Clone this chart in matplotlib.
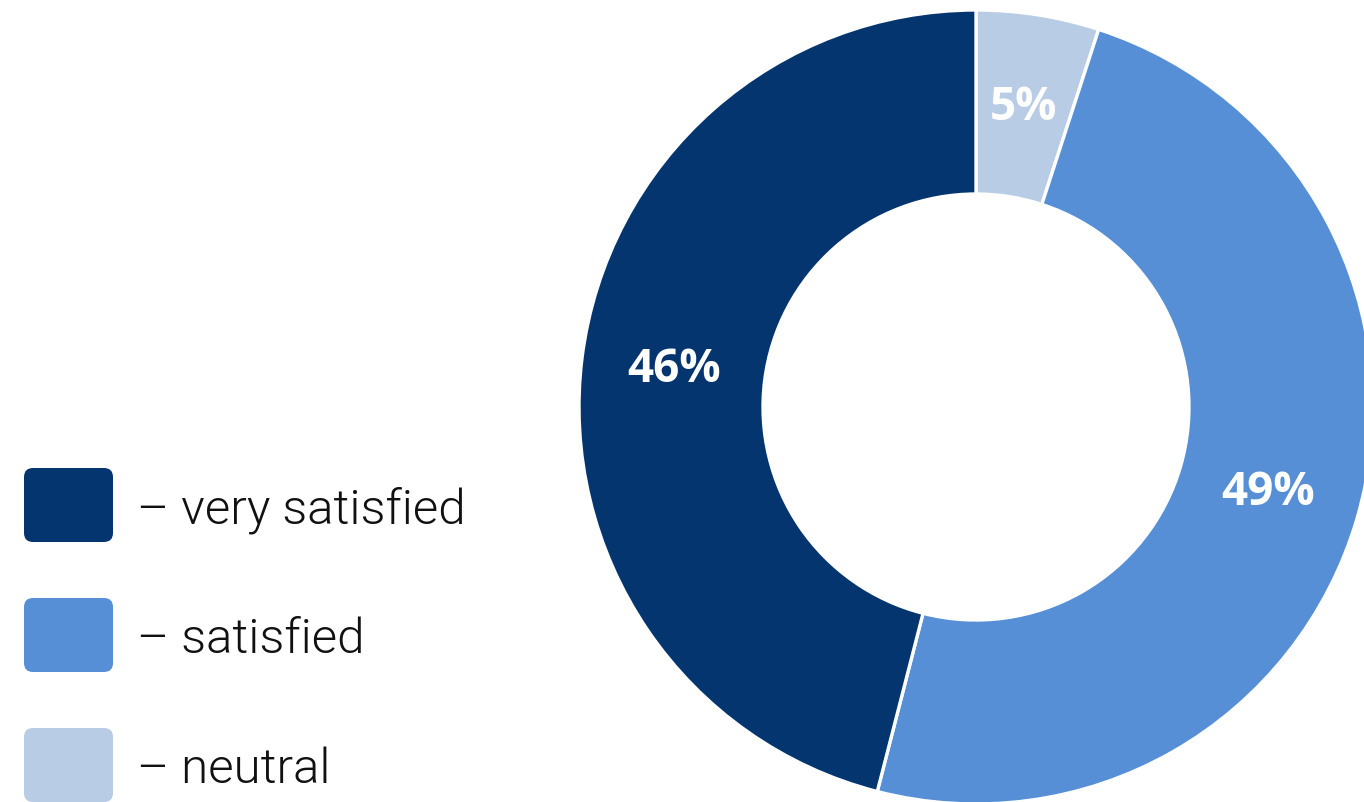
import matplotlib.pyplot as plt
from matplotlib.patches import FancyBboxPatch

# ── Data ──
categories = ["neutral", "satisfied", "very satisfied"]
values = [5, 49, 46]
colors = ["#B8CCE6", "#568FD6", "#04356E"]

legend_order = ["very satisfied", "satisfied", "neutral"]

W, H = 1364, 803

fig = plt.figure(figsize=(W / 100, H / 100), dpi=100, facecolor="white")
ax = fig.add_axes([0, 0, 1, 1])

# ── Donut ──
cx, cy, R = 976, H - 408, 397
wedges, _, autotexts = ax.pie(
    values, colors=colors, startangle=90, counterclock=False,
    center=(cx, cy), radius=R, frame=True,
    autopct=lambda p: f"{p:.0f}%", pctdistance=0.766,
    wedgeprops=dict(width=R - 213, edgecolor="white", linewidth=2.4),
)
for t in autotexts:
    t.set_color("white")
    t.set_fontsize(33)
    t.set_fontweight("bold")
    t.set_family(["Open Sans", "DejaVu Sans"])

# ── Legend ──
for i, name in enumerate(legend_order):
    c = colors[categories.index(name)]
    top = 469 + i * 130
    box = FancyBboxPatch((24, H - top - 74), 89, 74,
                         boxstyle="round,pad=0,rounding_size=9",
                         facecolor=c, edgecolor="none")
    ax.add_patch(box)
    ax.text(137, H - (top + 54), f"\u2013 {name}", fontsize=35.5,
            color="#111111", va="baseline", ha="left", fontweight=300,
            family=["Roboto", "DejaVu Sans"])

ax.set_xlim(0, W)
ax.set_ylim(0, H)
ax.set_aspect("equal")
ax.axis("off")

fig.savefig("out.png", dpi=100, facecolor="white")
